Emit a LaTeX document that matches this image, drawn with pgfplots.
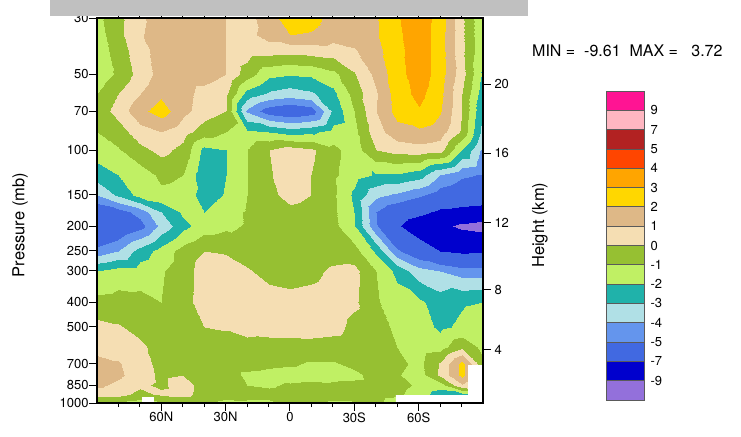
\documentclass[border=0pt]{standalone}
\usepackage{pgfplots}
\pgfplotsset{compat=1.18}
\usepackage{fontspec}
\setmainfont{TeX Gyre Heros}
\definecolor{c01}{RGB}{147,112,219}
\definecolor{c02}{RGB}{0,0,205}
\definecolor{c03}{RGB}{65,105,225}
\definecolor{c04}{RGB}{100,149,237}
\definecolor{c05}{RGB}{176,224,230}
\definecolor{c06}{RGB}{32,178,170}
\definecolor{c07}{RGB}{192,240,100}
\definecolor{c08}{RGB}{150,192,50}
\definecolor{c09}{RGB}{245,222,179}
\definecolor{c10}{RGB}{222,184,135}
\definecolor{c11}{RGB}{255,215,0}
\definecolor{c12}{RGB}{255,165,0}
\definecolor{c13}{RGB}{255,69,0}
\definecolor{c14}{RGB}{178,34,34}
\definecolor{c15}{RGB}{255,182,193}
\definecolor{c16}{RGB}{255,20,147}
\definecolor{barc}{RGB}{192,192,192}
\definecolor{boxline}{RGB}{90,90,90}
\begin{document}
\begin{tikzpicture}
\useasboundingbox (0,0) rectangle (741bp,437bp);
\begin{axis}[
  at={(97bp,34bp)}, anchor=south west,
  scale only axis, width=386bp, height=385bp,
  xmin=-90, xmax=90,
  ymode=log, ymin=30, ymax=1000, y dir=reverse,
  xtick={-60,-30,0,30,60},
  xticklabels={60N,30N,0,30S,60S},
  minor xtick={-80,-70,-50,-40,-20,-10,10,20,40,50,70,80},
  ytick={30,50,70,100,150,200,250,300,400,500,700,850,1000},
  yticklabels={30,50,70,100,150,200,250,300,400,500,700,850,1000},
  yminorticks=false,
  xtick pos=both, xticklabel pos=left, ytick pos=left,
  tick align=outside,
  major tick length=8bp, minor tick length=4bp,
  every tick/.style={black, line width=1bp},
  axis line style={line width=1.2bp},
  tick label style={font=\fontsize{13bp}{15bp}\selectfont},
  yticklabel style={xshift=3bp},
  xticklabel style={yshift=2bp},
  every axis y label/.style={at={(axis description cs:-0.1995,0.462)}, rotate=90, anchor=center},
  ylabel={Pressure (mb)},
  label style={font=\fontsize{16.5bp}{18bp}\selectfont},
  colormap={ncl}{color=(c01) color=(c01) color=(c02) color=(c02) color=(c03) color=(c03) color=(c04) color=(c05) color=(c06) color=(c07) color=(c08) color=(c09) color=(c10) color=(c11) color=(c12) color=(c13) color=(c14) color=(c14) color=(c15) color=(c15) color=(c16) color=(c16)},
  colormap access=piecewise constant,
  point meta min=-11, point meta max=11,
  axis on top,
]
\addplot[surf, shader=interp, mesh/cols=19, point meta=explicit] coordinates {
(-90,1000)[-1.4] (-80,1000)[-1.3] (-70,1000)[-1.5] (-60,1000)[-1.2] (-50,1000)[-0.8] (-40,1000)[-0.9] (-30,1000)[-1.2] (-20,1000)[-1.1] (-10,1000)[-1.1] (0,1000)[-0.9] (10,1000)[-0.8] (20,1000)[-1.1] (30,1000)[-1.1] (40,1000)[-0.8] (50,1000)[-1.5] (60,1000)[-1.5] (70,1000)[-1.5] (80,1000)[-1.5] (90,1000)[-1.5]
(-90,925)[0.6] (-80,925)[0.4] (-70,925)[-0.3] (-60,925)[0.2] (-50,925)[0.4] (-40,925)[-0.5] (-30,925)[-0.7] (-20,925)[-0.8] (-10,925)[-0.8] (0,925)[-0.7] (10,925)[-0.7] (20,925)[-0.7] (30,925)[-0.6] (40,925)[-0.6] (50,925)[-0.8] (60,925)[-1.5] (70,925)[-2.5] (80,925)[-2.3] (90,925)[-1.5]
(-90,850)[1.2] (-80,850)[0.8] (-70,850)[0.2] (-60,850)[-0.2] (-50,850)[0.5] (-40,850)[-0.5] (-30,850)[-0.6] (-20,850)[-1.0] (-10,850)[-1.1] (0,850)[-0.9] (10,850)[-0.8] (20,850)[-0.9] (30,850)[-0.8] (40,850)[-0.7] (50,850)[-0.6] (60,850)[-1.2] (70,850)[-1.5] (80,850)[0.9] (90,850)[-1.0]
(-90,775)[1.6] (-80,775)[1.2] (-70,775)[0.5] (-60,775)[-0.2] (-50,775)[0.0] (-40,775)[-0.3] (-30,775)[-0.5] (-20,775)[-1.2] (-10,775)[-1.3] (0,775)[-1.4] (10,775)[-1.3] (20,775)[-1.2] (30,775)[-1.2] (40,775)[-0.7] (50,775)[-0.9] (60,775)[-1.5] (70,775)[0.2] (80,775)[2.3] (90,775)[-0.8]
(-90,700)[1.4] (-80,700)[1.1] (-70,700)[0.4] (-60,700)[-0.3] (-50,700)[-0.4] (-40,700)[-0.5] (-30,700)[-0.5] (-20,700)[-0.6] (-10,700)[-0.8] (0,700)[-0.9] (10,700)[-1.1] (20,700)[-1.1] (30,700)[-0.8] (40,700)[-0.8] (50,700)[-0.7] (60,700)[-1.3] (70,700)[0.1] (80,700)[2.4] (90,700)[-0.8]
(-90,600)[0.6] (-80,600)[0.6] (-70,600)[0.2] (-60,600)[-0.4] (-50,600)[-0.5] (-40,600)[-0.5] (-30,600)[-0.4] (-20,600)[-0.4] (-10,600)[-0.5] (0,600)[-0.5] (10,600)[-0.4] (20,600)[-0.5] (30,600)[-0.6] (40,600)[-0.7] (50,600)[-1.0] (60,600)[-1.5] (70,600)[-1.4] (80,600)[-0.2] (90,600)[-1.3]
(-90,500)[0.3] (-80,500)[0.1] (-70,500)[-0.3] (-60,500)[-0.6] (-50,500)[-0.5] (-40,500)[0.0] (-30,500)[0.1] (-20,500)[0.4] (-10,500)[0.5] (0,500)[0.5] (10,500)[0.5] (20,500)[0.4] (30,500)[-0.3] (40,500)[-0.6] (50,500)[-1.2] (60,500)[-1.5] (70,500)[-2.2] (80,500)[-1.8] (90,500)[-1.5]
(-90,400)[-0.7] (-80,400)[-0.6] (-70,400)[-0.7] (-60,400)[-1.0] (-50,400)[-0.4] (-40,400)[0.5] (-30,400)[0.6] (-20,400)[0.6] (-10,400)[0.4] (0,400)[0.3] (10,400)[0.4] (20,400)[0.6] (30,400)[0.2] (40,400)[-0.9] (50,400)[-1.5] (60,400)[-1.8] (70,400)[-2.5] (80,400)[-2.1] (90,400)[-2.0]
(-90,300)[-2.0] (-80,300)[-1.6] (-70,300)[-1.5] (-60,300)[-1.1] (-50,300)[-0.5] (-40,300)[0.5] (-30,300)[0.5] (-20,300)[0.1] (-10,300)[-0.3] (0,300)[-0.4] (10,300)[-0.3] (20,300)[0.2] (30,300)[0.3] (40,300)[-1.0] (50,300)[-2.3] (60,300)[-3.6] (70,300)[-4.0] (80,300)[-4.5] (90,300)[-4.5]
(-90,250)[-4.6] (-80,250)[-4.0] (-70,250)[-2.6] (-60,250)[-1.6] (-50,250)[-0.6] (-40,250)[0.0] (-30,250)[-0.1] (-20,250)[-0.4] (-10,250)[-0.6] (0,250)[-0.7] (10,250)[-0.7] (20,250)[-0.5] (30,250)[-0.6] (40,250)[-2.2] (50,250)[-4.8] (60,250)[-6.0] (70,250)[-7.0] (80,250)[-7.3] (90,250)[-7.2]
(-90,200)[-6.9] (-80,200)[-6.2] (-70,200)[-5.4] (-60,200)[-3.7] (-50,200)[-2.3] (-40,200)[-1.5] (-30,200)[-1.2] (-20,200)[-0.9] (-10,200)[-0.6] (0,200)[-0.5] (10,200)[-0.6] (20,200)[-0.7] (30,200)[-1.9] (40,200)[-4.9] (50,200)[-6.8] (60,200)[-8.0] (70,200)[-8.6] (80,200)[-9.3] (90,200)[-9.6]
(-90,175)[-6.0] (-80,175)[-5.5] (-70,175)[-4.6] (-60,175)[-3.0] (-50,175)[-1.8] (-40,175)[-2.0] (-30,175)[-1.4] (-20,175)[-0.9] (-10,175)[-0.6] (0,175)[-0.3] (10,175)[-0.5] (20,175)[-0.8] (30,175)[-2.0] (40,175)[-5.0] (50,175)[-6.0] (60,175)[-6.6] (70,175)[-7.3] (80,175)[-7.5] (90,175)[-7.6]
(-90,150)[-4.0] (-80,150)[-2.8] (-70,150)[-1.6] (-60,150)[-1.2] (-50,150)[-1.3] (-40,150)[-2.5] (-30,150)[-1.9] (-20,150)[-1.0] (-10,150)[-0.3] (0,150)[0.4] (10,150)[0.0] (20,150)[-0.8] (30,150)[-2.2] (40,150)[-3.7] (50,150)[-4.2] (60,150)[-4.8] (70,150)[-5.6] (80,150)[-6.0] (90,150)[-6.2]
(-90,125)[-2.5] (-80,125)[-2.0] (-70,125)[-1.5] (-60,125)[-0.8] (-50,125)[-1.0] (-40,125)[-2.7] (-30,125)[-2.0] (-20,125)[-1.0] (-10,125)[-0.1] (0,125)[0.5] (10,125)[0.0] (20,125)[-0.8] (30,125)[-1.6] (40,125)[-2.1] (50,125)[-2.1] (60,125)[-2.5] (70,125)[-4.0] (80,125)[-4.8] (90,125)[-5.1]
(-90,100)[-1.5] (-80,100)[-1.1] (-70,100)[-0.3] (-60,100)[0.3] (-50,100)[-0.3] (-40,100)[-2.3] (-30,100)[-2.0] (-20,100)[-1.0] (-10,100)[0.0] (0,100)[0.5] (10,100)[0.2] (20,100)[-0.7] (30,100)[-1.5] (40,100)[0.0] (50,100)[0.4] (60,100)[0.6] (70,100)[0.4] (80,100)[-2.0] (90,100)[-4.3]
(-90,85)[-1.0] (-80,85)[-0.5] (-70,85)[0.6] (-60,85)[1.0] (-50,85)[0.4] (-40,85)[-0.5] (-30,85)[-1.0] (-20,85)[-1.8] (-10,85)[-2.0] (0,85)[-2.4] (10,85)[-2.2] (20,85)[-1.6] (30,85)[-1.3] (40,85)[0.6] (50,85)[1.6] (60,85)[1.8] (70,85)[1.5] (80,85)[-0.2] (90,85)[-3.4]
(-90,70)[-0.6] (-80,70)[0.4] (-70,70)[1.7] (-60,70)[2.5] (-50,70)[1.3] (-40,70)[0.5] (-30,70)[0.0] (-20,70)[-4.2] (-10,70)[-5.6] (0,70)[-6.0] (10,70)[-5.6] (20,70)[-2.8] (30,70)[-1.0] (40,70)[1.0] (50,70)[2.4] (60,70)[2.9] (70,70)[2.1] (80,70)[0.0] (90,70)[-3.0]
(-90,60)[-1.0] (-80,60)[0.0] (-70,60)[1.0] (-60,60)[1.8] (-50,60)[1.4] (-40,60)[0.6] (-30,60)[0.2] (-20,60)[-2.4] (-10,60)[-3.2] (0,60)[-3.5] (10,60)[-3.2] (20,60)[-2.3] (30,60)[-0.6] (40,60)[0.9] (50,60)[2.5] (60,60)[3.3] (70,60)[2.3] (80,60)[0.0] (90,60)[-2.6]
(-90,50)[-1.7] (-80,50)[-0.8] (-70,50)[0.4] (-60,50)[1.4] (-50,50)[1.6] (-40,50)[1.5] (-30,50)[1.0] (-20,50)[-0.5] (-10,50)[-1.7] (0,50)[-1.9] (10,50)[-1.8] (20,50)[-1.3] (30,50)[-0.1] (40,50)[1.3] (50,50)[2.6] (60,50)[3.6] (70,50)[2.5] (80,50)[0.4] (90,50)[-2.2]
(-90,40)[-1.6] (-80,40)[-0.5] (-70,40)[0.6] (-60,40)[1.5] (-50,40)[1.6] (-40,40)[1.5] (-30,40)[1.0] (-20,40)[0.5] (-10,40)[0.5] (0,40)[0.4] (10,40)[0.5] (20,40)[0.6] (30,40)[0.9] (40,40)[1.7] (50,40)[2.7] (60,40)[3.6] (70,40)[2.5] (80,40)[0.2] (90,40)[-1.8]
(-90,35)[-1.5] (-80,35)[-0.3] (-70,35)[0.9] (-60,35)[1.5] (-50,35)[1.6] (-40,35)[1.5] (-30,35)[1.0] (-20,35)[0.7] (-10,35)[1.4] (0,35)[2.0] (10,35)[1.9] (20,35)[1.4] (30,35)[1.5] (40,35)[1.9] (50,35)[2.8] (60,35)[3.6] (70,35)[2.5] (80,35)[0.2] (90,35)[-1.9]
(-90,30)[-1.3] (-80,30)[-0.3] (-70,30)[0.8] (-60,30)[1.5] (-50,30)[1.6] (-40,30)[1.5] (-30,30)[1.0] (-20,30)[0.6] (-10,30)[1.6] (0,30)[2.5] (10,30)[2.4] (20,30)[1.6] (30,30)[1.7] (40,30)[1.9] (50,30)[2.9] (60,30)[3.6] (70,30)[2.6] (80,30)[0.2] (90,30)[-1.9]
};
\addplot[fill=white, draw=none] coordinates {(-69.2,947) (-63.2,947) (-63.2,1000) (-69.2,1000)} -- cycle;
\addplot[fill=white, draw=none] coordinates {(49.4,930) (83.1,930) (83.1,708) (90,708) (90,1000) (49.4,1000)} -- cycle;
\end{axis}
\begin{axis}[
  at={(97bp,34bp)}, anchor=south west,
  scale only axis, width=386bp, height=385bp,
  xmin=-90, xmax=90,
  ymode=log, ymin=30, ymax=1000, y dir=reverse,
  axis x line=none, axis y line*=right,
  ytick={54.75,102.87,193.3,356.0,616.4},
  yticklabels={20,16,12,8,4},
  yminorticks=false,
  tick align=outside, major tick length=8bp,
  every tick/.style={black, line width=1bp},
  axis line style={line width=1.2bp},
  tick label style={font=\fontsize{13bp}{15bp}\selectfont},
  every axis y label/.style={at={(axis description cs:1.1477,0.462)}, rotate=90, anchor=center},
  ylabel={Height (km)},
  label style={font=\fontsize{16.5bp}{18bp}\selectfont},
]
\end{axis}
\begin{axis}[
  at={(606bp,37bp)}, anchor=south west,
  scale only axis, width=38bp, height=309bp,
  xmin=0, xmax=1, ymin=0, ymax=16,
  axis line style={draw=none},
  xtick=\empty,
  ytick={1,2,3,4,5,6,7,8,9,10,11,12,13,14,15},
  yticklabels={-9,-7,-5,-4,-3,-2,-1,0,1,2,3,4,5,7,9},
  ytick pos=right, yticklabel pos=right,
  major tick length=0pt,
  tick label style={font=\fontsize{13bp}{15bp}\selectfont},
  yticklabel style={xshift=3bp},
  clip=false,
]
\addplot[fill=c01, draw=boxline, line width=0.8bp] coordinates {(0,0) (1,0) (1,1) (0,1)} -- cycle;
\addplot[fill=c02, draw=boxline, line width=0.8bp] coordinates {(0,1) (1,1) (1,2) (0,2)} -- cycle;
\addplot[fill=c03, draw=boxline, line width=0.8bp] coordinates {(0,2) (1,2) (1,3) (0,3)} -- cycle;
\addplot[fill=c04, draw=boxline, line width=0.8bp] coordinates {(0,3) (1,3) (1,4) (0,4)} -- cycle;
\addplot[fill=c05, draw=boxline, line width=0.8bp] coordinates {(0,4) (1,4) (1,5) (0,5)} -- cycle;
\addplot[fill=c06, draw=boxline, line width=0.8bp] coordinates {(0,5) (1,5) (1,6) (0,6)} -- cycle;
\addplot[fill=c07, draw=boxline, line width=0.8bp] coordinates {(0,6) (1,6) (1,7) (0,7)} -- cycle;
\addplot[fill=c08, draw=boxline, line width=0.8bp] coordinates {(0,7) (1,7) (1,8) (0,8)} -- cycle;
\addplot[fill=c09, draw=boxline, line width=0.8bp] coordinates {(0,8) (1,8) (1,9) (0,9)} -- cycle;
\addplot[fill=c10, draw=boxline, line width=0.8bp] coordinates {(0,9) (1,9) (1,10) (0,10)} -- cycle;
\addplot[fill=c11, draw=boxline, line width=0.8bp] coordinates {(0,10) (1,10) (1,11) (0,11)} -- cycle;
\addplot[fill=c12, draw=boxline, line width=0.8bp] coordinates {(0,11) (1,11) (1,12) (0,12)} -- cycle;
\addplot[fill=c13, draw=boxline, line width=0.8bp] coordinates {(0,12) (1,12) (1,13) (0,13)} -- cycle;
\addplot[fill=c14, draw=boxline, line width=0.8bp] coordinates {(0,13) (1,13) (1,14) (0,14)} -- cycle;
\addplot[fill=c15, draw=boxline, line width=0.8bp] coordinates {(0,14) (1,14) (1,15) (0,15)} -- cycle;
\addplot[fill=c16, draw=boxline, line width=0.8bp] coordinates {(0,15) (1,15) (1,16) (0,16)} -- cycle;
\end{axis}
\fill[barc] (50bp,421bp) rectangle (528bp,437bp);
\node[anchor=base west, font=\fontsize{16bp}{18bp}\selectfont, inner sep=0pt] at (532bp,380bp) {MIN =\ \ -9.61\ \ MAX =\ \ \ 3.72};
\end{tikzpicture}
\end{document}
